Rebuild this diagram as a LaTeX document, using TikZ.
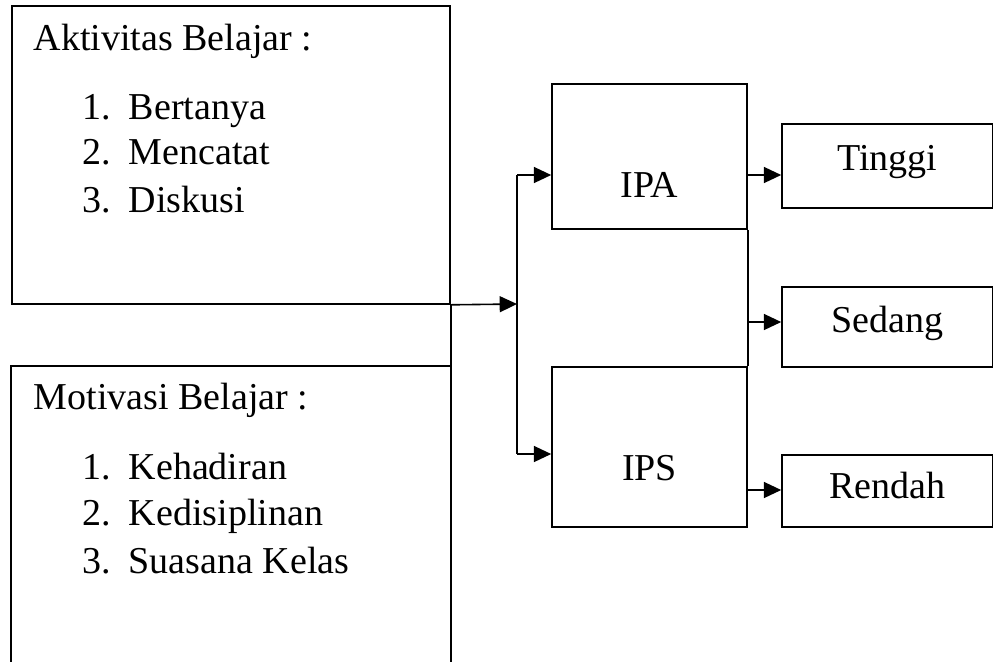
\documentclass[tikz,border=0pt]{standalone}
\usepackage{fontspec}
\setmainfont{Liberation Serif}
\usetikzlibrary{arrows.meta,fit}
\begin{document}
\begin{tikzpicture}[x=0.75pt,y=-0.75pt,
  line width=1.2pt,
  box/.style={draw, inner sep=0pt},
  hidden/.style={inner sep=0pt},
  txt/.style={anchor=base, inner sep=0pt, font=\fontsize{28.5pt}{34pt}\selectfont},
  ltxt/.style={anchor=base west, inner sep=0pt, font=\fontsize{28.5pt}{34pt}\selectfont},
  arr/.style={-{Triangle[length=13pt,width=12pt]}}]
\useasboundingbox (0,0) rectangle (994,661);
% left boxes
\node[box, fit={(12,6)(450,304)}] (box1) {};
\node[hidden, fit={(12,367)(450,661)}] (box2) {};
\draw (box2.south west) -- (box2.north west) -- (box2.north east) -- (box2.south east);
\draw (box1.south east) -- (box2.north east);
% middle boxes
\node[box, fit={(552,84)(747,229)}] (ipa) {};
\node[box, fit={(552,367)(747,527)}] (ips) {};
\draw (ipa.south east) -- (ips.north east);
% right boxes
\node[box, fit={(782,124)(992.5,208)}] (tinggi) {};
\node[box, fit={(782,287)(992.5,367)}] (sedang) {};
\node[box, fit={(782,455)(992.5,527)}] (rendah) {};
% texts
\node[ltxt] (t1) at (33,50) {Aktivitas Belajar :};
\node[ltxt] (t1a) at (82,119) {\makebox[34.5pt][l]{1.}Bertanya};
\node[ltxt] (t1b) at (82,164) {\makebox[34.5pt][l]{2.}Mencatat};
\node[ltxt] (t1c) at (82,212) {\makebox[34.5pt][l]{3.}Diskusi};
\node[ltxt] (t2) at (33,409) {Motivasi Belajar :};
\node[ltxt] (t2a) at (82,479) {\makebox[34.5pt][l]{1.}Kehadiran};
\node[ltxt] (t2b) at (82,525) {\makebox[34.5pt][l]{2.}Kedisiplinan};
\node[ltxt] (t2c) at (82,573) {\makebox[34.5pt][l]{3.}Suasana Kelas};
\node[txt] (tipa) at (649.5,197) {IPA};
\node[txt] (tips) at (649.5,480) {IPS};
\node[txt] (ttinggi) at (887.5,170) {Tinggi};
\node[txt] (tsedang) at (887.5,332) {Sedang};
\node[txt] (trendah) at (887.5,498) {Rendah};
% connectors
\coordinate (j) at (517,304);
\coordinate (ja) at (517,175);
\coordinate (jb) at (517,454);
\draw[arr] (box1.south east) -- (j);
\draw (ja) -- (jb);
\draw[arr] (ja) -- (ipa.west |- ja);
\draw[arr] (jb) -- (ips.west |- jb);
\coordinate (ka) at (747,175);
\coordinate (kb) at (747,322);
\coordinate (kc) at (747,490);
\draw[arr] (ka) -- (tinggi.west |- ka);
\draw[arr] (kb) -- (sedang.west |- kb);
\draw[arr] (kc) -- (rendah.west |- kc);
\end{tikzpicture}
\end{document}
